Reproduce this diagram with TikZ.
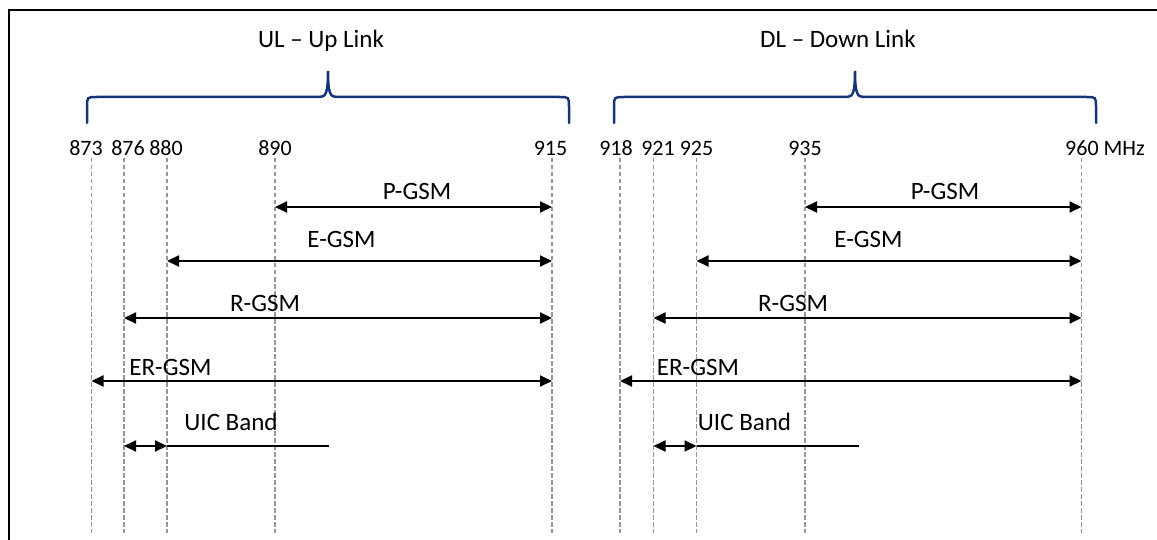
\documentclass[tikz,border=0pt]{standalone}
\usepackage{fontspec}
\setmainfont{Carlito}
\usetikzlibrary{arrows.meta}
\definecolor{bracenavy}{RGB}{24,52,118}
\definecolor{guidegray}{RGB}{150,150,150}
\tikzset{
  guide/.style={draw=guidegray, line width=1.6pt, dash pattern=on 4.5pt off 2.5pt},
  band/.style={draw=black, line width=2pt, {Triangle[length=12pt,width=11pt]}-{Triangle[length=12pt,width=11pt]}},
  plainline/.style={draw=black, line width=2pt},
  bracepath/.style={draw=bracenavy, line width=2.5pt, line cap=round},
  ticklabel/.style={anchor=base, inner sep=0pt, font=\fontsize{22}{26}\selectfont},
  bandlabel/.style={anchor=base, inner sep=0pt, font=\fontsize{25}{30}\selectfont},
  frame/.style={draw=black, line width=2pt}
}
\begin{document}
\begin{tikzpicture}[x=1pt,y=-1pt]
\useasboundingbox (0,0) rectangle (1157,540);
% frame
\coordinate (fbl) at (9,540);
\coordinate (ftl) at (9,10);
\coordinate (ftr) at (1157,10);
\draw[frame] (fbl) -- (ftl) -- (ftr);

% titles
\node[bandlabel] (ultitle) at (321,48) {UL – Up Link};
\node[bandlabel] (dltitle) at (838,48) {DL – Down Link};

% braces
\draw[bracepath] (87,123) -- (87,107) .. controls (87,97) .. (97,97) -- (320,97)
  .. controls (326,97) and (328,92) .. (328,71) .. controls (328,92) and (330,97) .. (336,97)
  -- (559,97) .. controls (569,97) .. (569,107) -- (569,123);
\draw[bracepath] (614,123) -- (614,107) .. controls (614,97) .. (624,97) -- (847,97)
  .. controls (853,97) and (855,92) .. (855,71) .. controls (855,92) and (857,97) .. (863,97)
  -- (1086,97) .. controls (1096,97) .. (1096,107) -- (1096,123);

% tick labels
\node[ticklabel] (l873) at (86,156) {873};
\node[ticklabel] (l876) at (128,156) {876};
\node[ticklabel] (l880) at (166,156) {880};
\node[ticklabel] (l890) at (275,156) {890};
\node[ticklabel] (l915) at (550.5,156) {915};
\node[ticklabel] (l918) at (616,156) {918};
\node[ticklabel] (l921) at (658,156) {921};
\node[ticklabel] (l925) at (696.5,156) {925};
\node[ticklabel] (l935) at (805,156) {935};
\node[ticklabel, anchor=base west] (l960) at (1065,156) {960 MHz};

% guide lines
\coordinate (bot) at (0,533);
\coordinate (d873) at (91.5,158);
\coordinate (d876) at (124,158);
\coordinate (d880) at (167,158);
\coordinate (d890) at (275,158);
\coordinate (d915) at (552,158);
\coordinate (d918) at (620,158);
\coordinate (d921) at (653.5,158);
\coordinate (d925) at (696.5,158);
\coordinate (d935) at (805,158);
\coordinate (d960) at (1081.5,158);
\foreach \d in {d873,d876,d880,d890,d915,d918,d921,d925,d935,d960}{
  \draw[guide] (\d) -- (\d |- bot);
}

% rows
\coordinate (rowP) at (0,207);
\coordinate (rowE) at (0,261);
\coordinate (rowR) at (0,318);
\coordinate (rowER) at (0,381);
\coordinate (rowU) at (0,446);
\coordinate (ulend) at (329,446);
\coordinate (dlend) at (859,446);

% UL bands
\draw[band] (d890 |- rowP) -- (d915 |- rowP);
\draw[band] (d880 |- rowE) -- (d915 |- rowE);
\draw[band] (d876 |- rowR) -- (d915 |- rowR);
\draw[band] (d873 |- rowER) -- (d915 |- rowER);
\draw[plainline] (d880 |- rowU) -- (ulend);
\draw[band] (d876 |- rowU) -- (d880 |- rowU);

\node[bandlabel] (ulp) at (417,200) {P-GSM};
\node[bandlabel] (ule) at (341.5,248) {E-GSM};
\node[bandlabel] (ulr) at (265,312) {R-GSM};
\node[bandlabel] (uler) at (170.5,375) {ER-GSM};
\node[bandlabel] (uluic) at (231,430) {UIC Band};

% DL bands
\draw[band] (d935 |- rowP) -- (d960 |- rowP);
\draw[band] (d925 |- rowE) -- (d960 |- rowE);
\draw[band] (d921 |- rowR) -- (d960 |- rowR);
\draw[band] (d918 |- rowER) -- (d960 |- rowER);
\draw[plainline] (d925 |- rowU) -- (dlend);
\draw[band] (d921 |- rowU) -- (d925 |- rowU);

\node[bandlabel] (dlp) at (945,200) {P-GSM};
\node[bandlabel] (dle) at (868.5,248) {E-GSM};
\node[bandlabel] (dlr) at (793,312) {R-GSM};
\node[bandlabel] (dler) at (698,375) {ER-GSM};
\node[bandlabel] (dluic) at (744.5,430) {UIC Band};
\end{tikzpicture}
\end{document}
